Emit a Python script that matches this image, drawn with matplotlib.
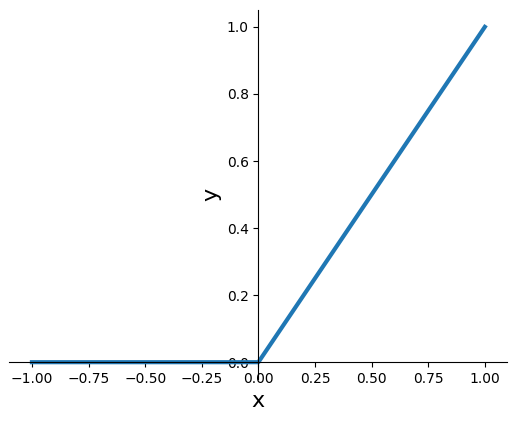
import numpy as np
import matplotlib
matplotlib.use('Agg')
import matplotlib.pyplot as plt

# ReLU: breakpoints
xs = [-1.0, 0.0, 1.0]
ys = [0.0, 0.0, 1.0]

fig = plt.figure(figsize=(5.16, 4.22), dpi=100)
ax = fig.add_axes([0.018, 0.102, 0.9655, 0.874])
ax.plot(xs, ys, linewidth=3)

ax.spines['left'].set_position(('data', 0))
ax.spines['bottom'].set_position(('data', 0))
ax.spines['top'].set_visible(False)
ax.spines['right'].set_visible(False)

ax.set_xlabel('x', fontsize=16)
ax.set_ylabel('y', fontsize=16)

fig.savefig('out.png', dpi=100)
